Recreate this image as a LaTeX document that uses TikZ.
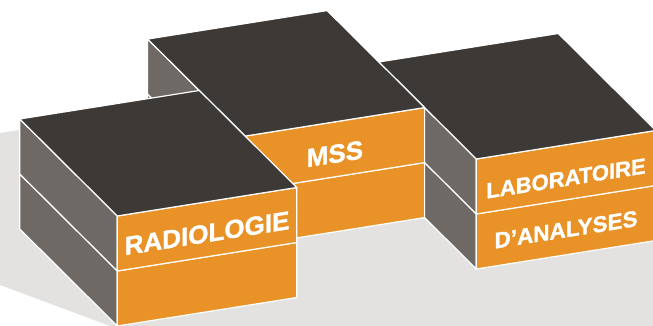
\documentclass[tikz,border=0pt]{standalone}
\usepackage{fontspec}
\setmainfont{Liberation Sans}
\newfontfamily\grasfont{Liberation Sans Bold}[FakeBold=1.2]
\definecolor{toit}{RGB}{61,57,54}
\definecolor{flanc}{RGB}{110,105,101}
\definecolor{facade}{RGB}{233,146,40}
\definecolor{sol}{RGB}{227,226,225}
\begin{document}
\begin{tikzpicture}[x=1pt, y=1pt, line join=round, line cap=round,
    face/.style={draw=white, line width=1.2pt},
    lbl/.style={text=white, inner sep=0pt, yslant=0.159, text depth=0pt, font=\grasfont\fontsize{#1}{#1}\selectfont}]
  \useasboundingbox (0,0) rectangle (653,326);
  \clip (0,0) rectangle (653,326);
  \fill[sol] (0,193) -- (472,268) -- (600,226) -- (660,126) -- (660,0) -- (110,0) -- (0,41) -- cycle;
  \begin{scope}[shift={(117.3,0)}, x={(179.5pt,28.5pt)}, y={(-97.5pt,97pt)}, z={(0pt,55pt)}]
    % labo, mss, radiologie (de l'arriere vers l'avant)
    \foreach \bx/\by in {2/0, 1/0.53, 0/0}{
      \foreach \bz in {0,1}{
        \filldraw[face, fill=flanc] (\bx,\by,\bz) -- ++(0,1,0) -- ++(0,0,1) -- ++(0,-1,0) -- cycle;
        \filldraw[face, fill=facade] (\bx,\by,\bz) -- ++(1,0,0) -- ++(0,0,1) -- ++(-1,0,0) -- cycle;
      }
      \filldraw[face, fill=toit] (\bx,\by,2) -- ++(1,0,0) -- ++(0,1,0) -- ++(-1,0,0) -- cycle;
    }
    \node[lbl=26] (radio) at (0.5,0,1.43) {RADIOLOGIE};
    \node[lbl=26] (mss) at (1.5,0.53,1.42) {MSS};
    \node[lbl=22] (labo) at (2.5,0,1.39) {LABORATOIRE};
    \node[lbl=22.5] (analyses) at (2.5,0,0.46) {D’ANALYSES};
  \end{scope}
\end{tikzpicture}
\end{document}
